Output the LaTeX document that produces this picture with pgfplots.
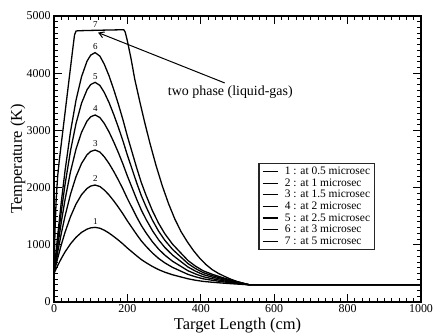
\documentclass[border=0pt]{standalone}
\usepackage{fontspec}
\setmainfont{Liberation Serif}
\usepackage{pgfplots}
\pgfplotsset{compat=1.18}
\usetikzlibrary{arrows.meta}

\begin{document}
\begin{tikzpicture}
\begin{axis}[
  scale only axis,
  width=367bp, height=286bp,
  xmin=0, xmax=1000, ymin=0, ymax=5000,
  xtick={0,200,...,1000}, ytick={0,1000,...,5000},
  minor x tick num=9, minor y tick num=9,
  tick align=inside,
  major tick length=8bp, minor tick length=4.5bp,
  axis line style={line width=1.3bp},
  every tick/.style={black, line width=0.9bp},
  scaled ticks=false,
  /pgf/number format/assume math mode=true,
  /pgf/number format/1000 sep={},
  ticklabel style={font=\fontsize{12}{12}\selectfont},
  xticklabel style={inner sep=2.5bp},
  xlabel={Target Length (cm)}, ylabel={Temperature (K)},
  label style={font=\fontsize{16.5}{16.5}\selectfont},
  xlabel style={at={(axis description cs:0.5,-0.0945)}, anchor=base},
  ylabel style={at={(axis description cs:-0.098,0.5)}, anchor=center},
  legend image code/.code={\draw[black, line width=1.3bp] (0bp,0bp) -- (15bp,0bp);},
  legend style={at={(axis cs:557,2430)}, anchor=north west, draw=black!85, line width=1.2bp,
    font=\fontsize{11.5}{11.5}\selectfont, inner xsep=3bp, inner ysep=2bp,
    row sep=-0.5bp, cells={anchor=west},
    nodes={inner sep=1.5bp},
    /tikz/every odd column/.append style={column sep=5bp}},
]
% curve 1
\addplot[black, line width=1.3bp] coordinates {(0,500) (5,570) (10,637) (20,762) (30,874) (45,1017) (60,1131) (75,1217) (90,1274) (100,1296) (112,1305)
 (125,1290) (137,1255) (150,1205) (163,1144) (175,1084) (188,1014) (200,943) (213,873) (226,803) (238,742) (251,687) (268,622) (285,566) (302,521) (323,476) (344,441) (365,406) (386,380) (407,360) (432,345) (457,332) (483,320) (508,310) (533,300) (1000,300)};
\addlegendentry{1 : at 0.5 microsec}
% curve 2
\addplot[black, line width=1.3bp] coordinates {(0,500) (5,635) (10,764) (20,1003) (30,1217) (45,1492) (60,1712) (75,1876) (90,1985) (100,2027) (112,2045)
 (125,2019) (137,1958) (150,1871) (163,1766) (175,1661) (188,1539) (200,1417) (213,1295) (226,1173) (238,1068) (251,972) (268,858) (285,762) (302,684) (323,605) (344,544) (365,483) (386,440) (407,405) (432,379) (457,356) (483,335) (508,317) (533,300) (1000,300)};
\addlegendentry{2 : at 1 microsec}
% curve 3
\addplot[black, line width=1.3bp] coordinates {(0,500) (5,688) (10,868) (20,1202) (30,1501) (45,1885) (60,2192) (75,2421) (90,2574) (100,2632) (112,2657)
 (125,2622) (137,2539) (150,2421) (163,2280) (175,2138) (188,1973) (200,1808) (213,1643) (226,1478) (238,1337) (251,1207) (268,1054) (285,925) (302,819) (323,712) (344,630) (365,547) (386,489) (407,441) (432,406) (457,375) (483,347) (508,324) (533,300) (1000,300)};
\addlegendentry{3 : at 1.5 microsec}
% curve 4
\addplot[black, line width=1.3bp] coordinates {(0,500) (5,742) (10,973) (20,1401) (30,1785) (45,2279) (60,2673) (75,2967) (90,3163) (100,3238) (112,3270)
 (125,3225) (137,3122) (150,2973) (163,2795) (175,2617) (188,2409) (200,2201) (213,1993) (226,1785) (238,1607) (251,1443) (268,1250) (285,1087) (302,953) (323,820) (344,716) (365,612) (386,538) (407,478) (432,434) (457,395) (483,359) (508,330) (533,300) (1000,300)};
\addlegendentry{4 : at 2 microsec}
% curve 5
\addplot[black, line width=1.3bp] coordinates {(0,500) (5,791) (10,1070) (20,1587) (30,2050) (45,2645) (60,3120) (75,3475) (90,3711) (100,3802) (112,3840)
 (125,3787) (137,3663) (150,3486) (163,3274) (175,3061) (188,2813) (200,2566) (213,2318) (226,2070) (238,1858) (251,1663) (268,1433) (285,1238) (302,1079) (323,920) (344,796) (365,672) (386,583) (407,512) (432,459) (457,413) (483,371) (508,335) (533,300) (1000,300)};
\addlegendentry{5 : at 2.5 microsec}
% curve 6
\addplot[black, line width=1.3bp] coordinates {(0,500) (5,837) (10,1159) (20,1756) (30,2291) (45,2979) (60,3528) (75,3938) (90,4211) (100,4316) (112,4360)
 (125,4299) (137,4157) (150,3954) (163,3710) (175,3467) (188,3183) (200,2898) (213,2614) (226,2330) (238,2086) (251,1863) (268,1599) (285,1376) (302,1193) (323,1011) (344,868) (365,726) (386,625) (407,544) (432,483) (457,430) (483,381) (508,341) (533,300) (1000,300)};
\addlegendentry{6 : at 3 microsec}
% curve 7
\addplot[black, line width=1.3bp] coordinates {(0,500) (1,800) (3,1300) (6,1800) (10,2200) (14.5,2480) (25,3040) (35,3570) (45,4100) (52,4470) (56,4670) (60,4735) (65,4742) (100,4748) (150,4755) (190,4760) (194,4720)
 (200,4562) (210,4252) (220,3896) (234,3497) (247,3142) (261,2786) (278,2387) (295,2032) (312,1721) (329,1454) (346,1232) (363,1055) (380,899) (397,766) (414,655) (431,566) (448,500) (465,447) (482,398) (499,358) (516,327) (533,300) (1000,300)};
\addlegendentry{7 : at 5 microsec}

\node[font=\fontsize{9}{9}\selectfont] at (axis cs:113,1410) {1};
\node[font=\fontsize{9}{9}\selectfont] at (axis cs:113,2150) {2};
\node[font=\fontsize{9}{9}\selectfont] at (axis cs:113,2762) {3};
\node[font=\fontsize{9}{9}\selectfont] at (axis cs:113,3375) {4};
\node[font=\fontsize{9}{9}\selectfont] at (axis cs:113,3945) {5};
\node[font=\fontsize{9}{9}\selectfont] at (axis cs:113,4465) {6};
\node[font=\fontsize{9}{9}\selectfont] at (axis cs:113,4850) {7};
\draw[-{Straight Barb[length=5bp,width=6bp]}, line width=1bp] (axis cs:465,3830) -- (axis cs:120,4710);
\node[anchor=west, font=\fontsize{14}{14}\selectfont, inner sep=0pt] at (axis cs:310,3677) {two phase (liquid-gas)};
\end{axis}
\pgfresetboundingbox
\path[use as bounding box] (-54bp,-31bp) rectangle (381bp,302bp);
\end{tikzpicture}
\end{document}
